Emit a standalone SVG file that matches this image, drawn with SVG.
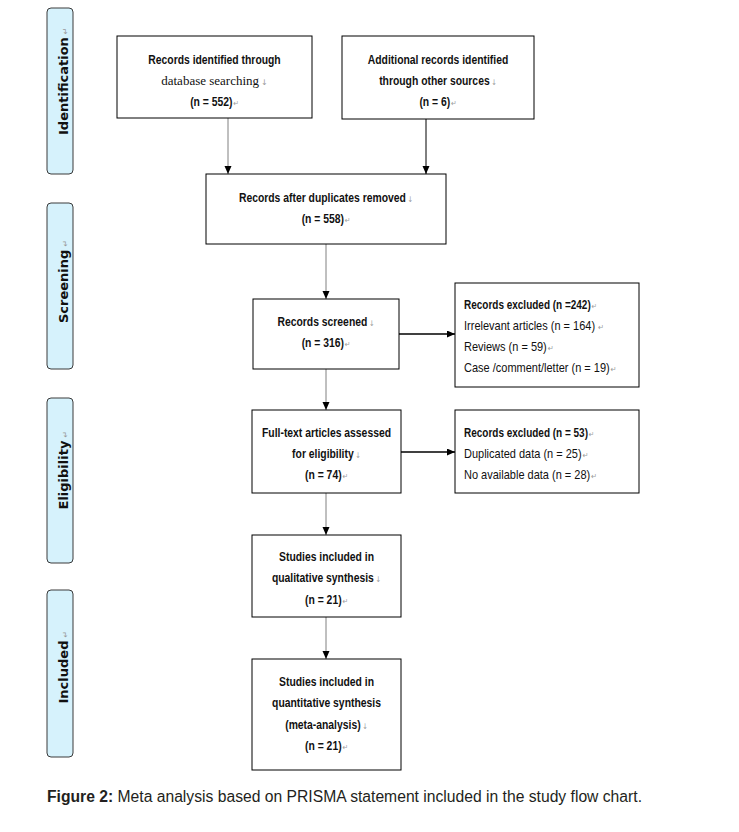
<svg xmlns="http://www.w3.org/2000/svg" width="739" height="832" viewBox="0 0 739 832">
<style>
.box{fill:#fff;stroke:#000;stroke-width:1}
.lab{fill:#d6f2fc;stroke:#3a3a3a;stroke-width:1}
.lt{font-family:"DejaVu Sans",Verdana,sans-serif;font-size:13px;font-weight:bold;fill:#111}
.b{font-family:"Liberation Sans",Arial,sans-serif;font-size:12.5px;font-weight:bold;fill:#111}
.r{font-family:"Liberation Sans",Arial,sans-serif;font-size:12.5px;fill:#111}
.s{font-family:"Liberation Serif","Times New Roman",serif;font-size:13px;fill:#111}
.m{font-family:"DejaVu Sans",sans-serif;font-size:8px;font-weight:normal;fill:#999}
.cap{font-family:"Liberation Sans",Arial,sans-serif;font-size:16px;fill:#231f20}
.g{stroke:#808080;stroke-width:1;fill:none}
.k{stroke:#000;stroke-width:1;fill:none}
.k2{stroke:#000;stroke-width:1.5;fill:none}
</style>
<defs>
<marker id="ah" markerUnits="userSpaceOnUse" markerWidth="8" markerHeight="8" refX="8" refY="3.5" orient="auto">
<path d="M0,0 L8,3.5 L0,7 Z" fill="#000"/>
</marker>
</defs>

<g id="label-identification">
<rect class="lab" x="47" y="8" width="26" height="166" rx="4"/>
<text class="lt" transform="translate(67.5,135) rotate(-90)">Identification<tspan class="m" dx="3">↵</tspan></text>
</g>
<g id="label-screening">
<rect class="lab" x="47" y="203" width="26" height="166" rx="4"/>
<text class="lt" transform="translate(67.5,323) rotate(-90)">Screening<tspan class="m" dx="3">↵</tspan></text>
</g>
<g id="label-eligibility">
<rect class="lab" x="47" y="398" width="26" height="165" rx="4"/>
<text class="lt" transform="translate(67.5,509.5) rotate(-90)">Eligibility<tspan class="m" dx="3">↵</tspan></text>
</g>
<g id="label-included">
<rect class="lab" x="47" y="590" width="26" height="167" rx="4"/>
<text class="lt" transform="translate(67.5,703.5) rotate(-90)">Included<tspan class="m" dx="3">↵</tspan></text>
</g>

<g id="connectors">
<line class="g" x1="228" y1="118" x2="228" y2="174" marker-end="url(#ah)"/>
<line class="k" x1="426" y1="119" x2="426" y2="174" marker-end="url(#ah)"/>
<line class="g" x1="326" y1="244" x2="326" y2="299" marker-end="url(#ah)"/>
<line class="k2" x1="399" y1="334" x2="455" y2="334" marker-end="url(#ah)"/>
<line class="g" x1="326" y1="369" x2="326" y2="410" marker-end="url(#ah)"/>
<line class="k2" x1="401" y1="452" x2="455" y2="452" marker-end="url(#ah)"/>
<line class="g" x1="326" y1="493" x2="326" y2="535" marker-end="url(#ah)"/>
<line class="g" x1="326" y1="617" x2="326" y2="659" marker-end="url(#ah)"/>
</g>

<g id="node-database">
<rect class="box" x="117" y="36" width="195" height="82"/>
<g transform="translate(214.5 0) scale(0.83 1)" text-anchor="middle">
<text class="b" x="0" y="64">Records identified through</text>
<text class="b" x="0" y="106">(n = 552)<tspan class="m" dx="1">↵</tspan></text>
</g>
<text class="s" x="214.5" y="85" text-anchor="middle">database searching<tspan class="m" dx="2">↓</tspan></text>
</g>
<g id="node-other">
<rect class="box" x="342" y="36" width="192" height="83"/>
<g transform="translate(438 0) scale(0.83 1)" text-anchor="middle">
<text class="b" x="0" y="64">Additional records identified</text>
<text class="b" x="0" y="85">through other sources<tspan class="m" dx="2">↓</tspan></text>
<text class="b" x="0" y="106">(n = 6)<tspan class="m" dx="1">↵</tspan></text>
</g>
</g>
<g id="node-duplicates">
<rect class="box" x="206" y="174" width="240" height="70"/>
<g transform="translate(326 0) scale(0.83 1)" text-anchor="middle">
<text class="b" x="0" y="202">Records after duplicates removed<tspan class="m" dx="2">↓</tspan></text>
<text class="b" x="0" y="223">(n = 558)<tspan class="m" dx="1">↵</tspan></text>
</g>
</g>
<g id="node-screened">
<rect class="box" x="253" y="299" width="146" height="70"/>
<g transform="translate(326 0) scale(0.83 1)" text-anchor="middle">
<text class="b" x="0" y="326">Records screened<tspan class="m" dx="2">↓</tspan></text>
<text class="b" x="0" y="347">(n = 316)<tspan class="m" dx="1">↵</tspan></text>
</g>
</g>
<g id="node-excluded1">
<rect class="box" x="455" y="283" width="184" height="104"/>
<g transform="translate(464 0) scale(0.8 1)">
<text class="b" x="0" y="309">Records excluded (n =242)<tspan class="m" dx="1">↵</tspan></text>
</g>
<g transform="translate(464 0) scale(0.88 1)">
<text class="r" x="0" y="330">Irrelevant articles (n = 164) <tspan class="m">↵</tspan></text>
<text class="r" x="0" y="351">Reviews (n = 59)<tspan class="m" dx="1">↵</tspan></text>
<text class="r" x="0" y="372">Case /comment/letter (n = 19)<tspan class="m" dx="1">↵</tspan></text>
</g>
</g>
<g id="node-fulltext">
<rect class="box" x="252" y="410" width="149" height="83"/>
<g transform="translate(326.5 0) scale(0.83 1)" text-anchor="middle">
<text class="b" x="0" y="437">Full-text articles assessed</text>
<text class="b" x="0" y="458">for eligibility<tspan class="m" dx="2">↓</tspan></text>
<text class="b" x="0" y="479">(n = 74)<tspan class="m" dx="1">↵</tspan></text>
</g>
</g>
<g id="node-excluded2">
<rect class="box" x="455" y="410" width="184" height="83"/>
<g transform="translate(464 0) scale(0.8 1)">
<text class="b" x="0" y="437">Records excluded (n = 53)<tspan class="m" dx="1">↵</tspan></text>
</g>
<g transform="translate(464 0) scale(0.88 1)">
<text class="r" x="0" y="458">Duplicated data (n = 25)<tspan class="m" dx="1">↵</tspan></text>
<text class="r" x="0" y="479">No available data (n = 28)<tspan class="m" dx="1">↵</tspan></text>
</g>
</g>
<g id="node-qualitative">
<rect class="box" x="252" y="535" width="149" height="82"/>
<g transform="translate(326.5 0) scale(0.83 1)" text-anchor="middle">
<text class="b" x="0" y="561">Studies included in</text>
<text class="b" x="0" y="582">qualitative synthesis<tspan class="m" dx="2">↓</tspan></text>
<text class="b" x="0" y="604">(n = 21)<tspan class="m" dx="1">↵</tspan></text>
</g>
</g>
<g id="node-quantitative">
<rect class="box" x="252" y="659" width="149" height="111"/>
<g transform="translate(326.5 0) scale(0.83 1)" text-anchor="middle">
<text class="b" x="0" y="686">Studies included in</text>
<text class="b" x="0" y="707">quantitative synthesis</text>
<text class="b" x="0" y="729">(meta-analysis)<tspan class="m" dx="2">↓</tspan></text>
<text class="b" x="0" y="750">(n = 21)<tspan class="m" dx="1">↵</tspan></text>
</g>
</g>

<text class="cap" x="47" y="802" textLength="595" lengthAdjust="spacingAndGlyphs"><tspan font-weight="bold">Figure 2:</tspan> Meta analysis based on PRISMA statement included in the study flow chart.</text>
</svg>
